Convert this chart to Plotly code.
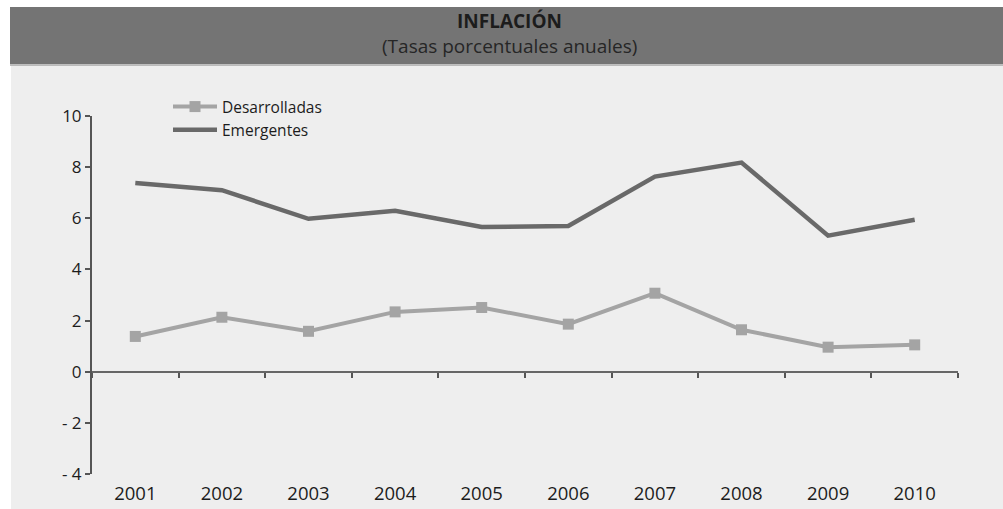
import plotly.graph_objects as go

# Inflation, annual percentage rates
years = [2001, 2002, 2003, 2004, 2005, 2006, 2007, 2008, 2009, 2010]
desarrolladas = [1.38, 2.13, 1.58, 2.34, 2.51, 1.86, 3.07, 1.64, 0.96, 1.05]
emergentes = [7.38, 7.10, 5.98, 6.29, 5.66, 5.70, 7.63, 8.18, 5.32, 5.94]

y_ticks = [-4, -2, 0, 2, 4, 6, 8, 10]
y_ticktext = ["- 4", "- 2", "0", "2", "4", "6", "8", "10"]
year_bounds = [y - 0.5 for y in years] + [years[-1] + 0.5]

W, H = 1003, 509
ML, MR, MT, MB = 92, 45, 116, 35
PW, PH = W - ML - MR, H - MT - MB


def px_x(p):
    return (p - ML) / PW


def px_y(p):
    return (H - MB - p) / PH


FONT = "Open Sans, Noto Sans, sans-serif"

fig = go.Figure()

fig.add_trace(go.Scatter(
    x=years, y=desarrolladas, name="Desarrolladas", mode="lines+markers",
    line=dict(color="#a4a4a4", width=4),
    marker=dict(symbol="square", size=11, color="#a4a4a4"),
))
fig.add_trace(go.Scatter(
    x=years, y=emergentes, name="Emergentes", mode="lines",
    line=dict(color="#696969", width=4.5),
))

shapes = [
    # light panel behind the chart
    dict(type="rect", xref="paper", yref="paper", layer="below",
         x0=px_x(11), x1=px_x(W + 5), y0=px_y(H + 5), y1=px_y(65),
         fillcolor="#eeeeee", line=dict(width=0)),
    # title band
    dict(type="rect", xref="paper", yref="paper", layer="below",
         x0=px_x(10), x1=px_x(W + 5), y0=px_y(64), y1=px_y(7),
         fillcolor="#747474", line=dict(width=0)),
    dict(type="line", xref="paper", yref="paper", layer="below",
         x0=px_x(10), x1=px_x(W + 5), y0=px_y(65), y1=px_y(65),
         line=dict(color="#a8a8a8", width=1.5)),
]

annotations = [
    dict(text="<b>INFLACIÓN</b>", xref="paper", yref="paper",
         x=px_x(509), y=px_y(21), xanchor="center", yanchor="middle",
         showarrow=False,
         font=dict(family=FONT, size=19, color="#1c1c1c")),
    dict(text="(Tasas porcentuales anuales)", xref="paper", yref="paper",
         x=px_x(509), y=px_y(46), xanchor="center", yanchor="middle",
         showarrow=False,
         font=dict(family=FONT, size=19, color="#262626")),
]

fig.update_layout(
    width=W, height=H,
    margin=dict(l=ML, r=MR, t=MT, b=MB, autoexpand=False),
    paper_bgcolor="white",
    plot_bgcolor="rgba(0,0,0,0)",
    font=dict(family=FONT, color="#1c1c1c"),
    shapes=shapes,
    annotations=annotations,
    showlegend=True,
    legend=dict(
        x=px_x(168), y=px_y(90), xanchor="left", yanchor="top",
        bgcolor="rgba(0,0,0,0)", font=dict(size=15.5, color="#1c1c1c"),
        tracegroupgap=0, itemwidth=44,
    ),
    xaxis=dict(
        range=[years[0] - 0.5, years[-1] + 0.5],
        tickvals=years, ticktext=[str(y) for y in years],
        showgrid=False, zeroline=False, showline=False, ticks="",
        tickfont=dict(size=18.5, color="#1c1c1c"),
        ticklabelstandoff=6, automargin=False,
    ),
    xaxis2=dict(
        overlaying="x", anchor="free", position=4 / 14, side="bottom",
        range=[years[0] - 0.5, years[-1] + 0.5],
        tickvals=year_bounds, showticklabels=False,
        ticks="outside", ticklen=5, tickwidth=1.5, tickcolor="#555555",
        showline=True, linecolor="#666666", linewidth=2,
        showgrid=False, zeroline=False, automargin=False,
    ),
    yaxis=dict(
        range=[-4, 10], tickvals=y_ticks, ticktext=y_ticktext,
        showgrid=False, zeroline=False,
        showline=True, linecolor="#555555", linewidth=2,
        ticks="outside", ticklen=5, tickwidth=1.5, tickcolor="#555555",
        tickfont=dict(size=17, color="#1c1c1c"), automargin=False,
    ),
)

# empty trace so the zero-level axis is drawn
fig.add_trace(go.Scatter(x=[None], y=[None], xaxis="x2", showlegend=False,
                         hoverinfo="skip"))

fig.write_html("out.html")
